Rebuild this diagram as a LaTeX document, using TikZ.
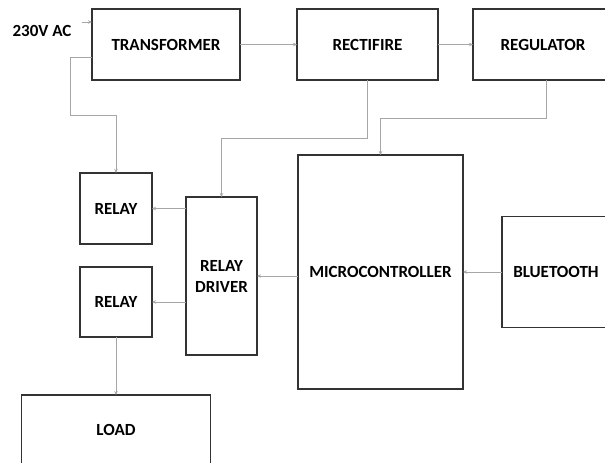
\documentclass[tikz,border=0pt]{standalone}
\usepackage{fontspec}
\setmainfont{Carlito}
\usetikzlibrary{positioning, arrows.meta}

\begin{document}
\begin{tikzpicture}[
    x=1pt, y=1pt,
    blk/.style={draw=black!80, line width=1.5pt, outer sep=0pt, inner sep=0pt, align=center, font=\fontsize{17}{21}\selectfont\bfseries},
    arr/.style={-{Stealth[length=4pt, width=3.5pt]}, draw=black!35, line width=0.9pt},
    every node/.style={font=\fontsize{17}{21}\selectfont\bfseries}
]
\useasboundingbox (0,0) rectangle (605,463);

% Supply chain
\node[blk, minimum width=148pt, minimum height=71pt] (trans) at (166,418.5) {TRANSFORMER};
\node[blk, minimum width=141pt, minimum height=71pt, right=57pt of trans] (rect) {RECTIFIRE};
\node[blk, minimum width=140pt, minimum height=71pt, right=35pt of rect] (reg) {REGULATOR};

% Control
\node[blk, minimum width=165pt, minimum height=234pt] (micro) at (380.5,191) {MICROCONTROLLER};
\node[blk, minimum width=108pt, minimum height=111pt, right=39pt of micro] (bt) {BLUETOOTH};
\node[blk, minimum width=71pt, minimum height=158pt, left=41pt of micro, yshift=-4pt] (driver) {RELAY\\DRIVER};

% Relays and load
\node[blk, minimum width=72pt, minimum height=71pt] (relay1) at (116,254.5) {RELAY};
\node[blk, minimum width=72pt, minimum height=70pt, below=23pt of relay1] (relay2) {RELAY};
\node[blk, minimum width=189pt, minimum height=70pt, below=58pt of relay2] (load) {LOAD};

% Mains input
\node (aclbl) at (42,432) {230V AC};
\coordinate (acin) at (82,441);

% Arrows
\draw[arr] (acin) -- (acin -| trans.west);
\draw[arr] (trans) -- (rect);
\draw[arr] (rect) -- (reg);
\draw[arr] ([yshift=-12.5pt]trans.west) -- ++(-22pt,0) |- ([yshift=58pt]relay1.north) -- (relay1.north);
\draw[arr] (rect.south) |- ([yshift=59pt]driver.north) -- (driver.north);
\draw[arr] ([xshift=3pt]reg.south) |- ([yshift=37pt]micro.north) -- (micro.north);
\draw[arr] (bt) -- (micro);
\draw[arr] (micro.west |- driver) -- (driver.east);
\draw[arr] (driver.west |- relay1) -- (relay1.east);
\draw[arr] (driver.west |- relay2) -- (relay2.east);
\draw[arr] (relay2.south) -- (relay2.south |- load.north);

\end{tikzpicture}
\end{document}
